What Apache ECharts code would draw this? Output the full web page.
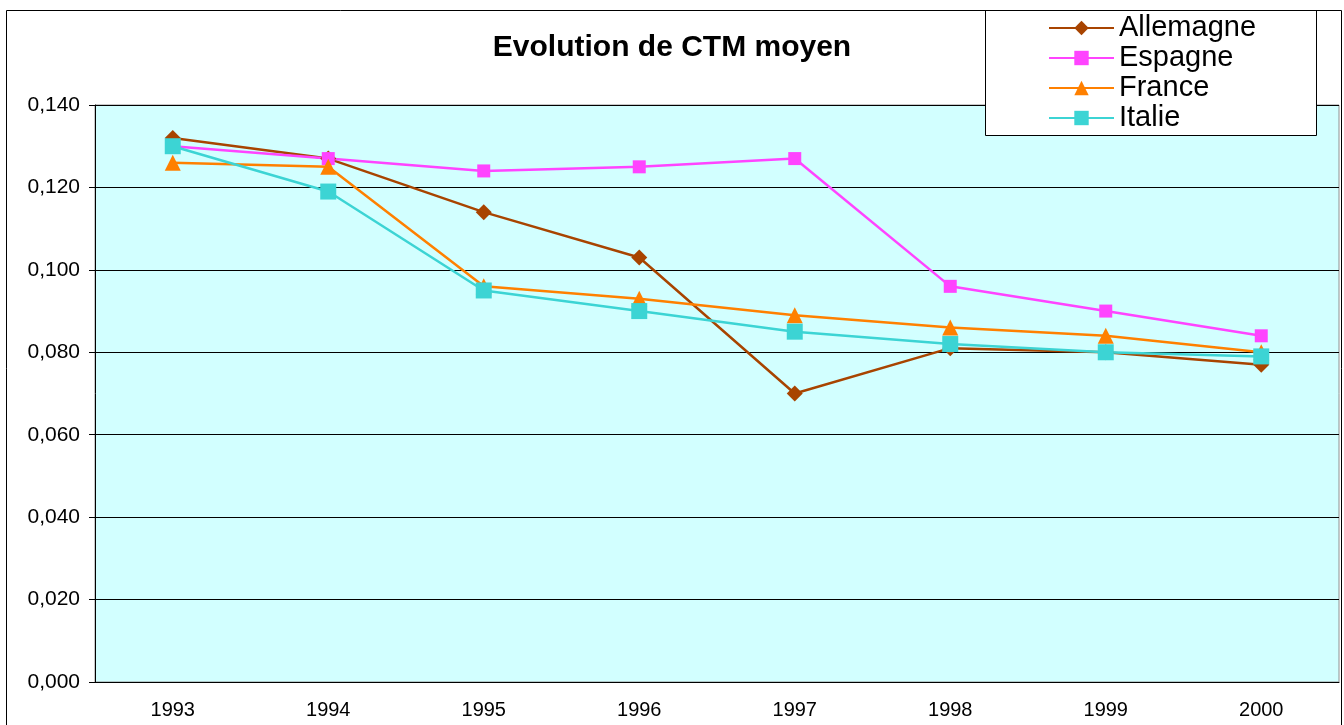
<!DOCTYPE html>
<html>
<head>
<meta charset="utf-8">
<script src="https://cdn.jsdelivr.net/npm/echarts@6/dist/echarts.min.js"></script>
<style>
  html, body { margin: 0; padding: 0; background: #fff; }
  #chart { width: 1344px; height: 725px; }
</style>
</head>
<body>
<div id="chart"></div>
<script>
var years = ['1993', '1994', '1995', '1996', '1997', '1998', '1999', '2000'];
var allemagne = [0.132, 0.127, 0.114, 0.103, 0.070, 0.081, 0.080, 0.077];
var espagne = [0.130, 0.127, 0.124, 0.125, 0.127, 0.096, 0.090, 0.084];
var france = [0.126, 0.125, 0.096, 0.093, 0.089, 0.086, 0.084, 0.080];
var italie = [0.130, 0.119, 0.095, 0.090, 0.085, 0.082, 0.080, 0.079];

var font = 'Liberation Sans, Arial, sans-serif';
var myChart = echarts.init(document.getElementById('chart'));

function line(name, data, color, symbol, size) {
  return {
    name: name,
    type: 'line',
    data: data,
    symbol: symbol,
    symbolSize: size,
    lineStyle: { color: color, width: 2.5 },
    itemStyle: { color: color },
    emphasis: { disabled: true }
  };
}

var option = {
  animation: false,
  textStyle: { fontFamily: font },
  title: {
    text: 'Evolution de CTM moyen',
    left: 'center',
    top: 28,
    textStyle: { fontFamily: font, fontSize: 30, fontWeight: 'bold', color: '#000' }
  },
  graphic: [
    {
      type: 'rect', z: 10,
      shape: { x: 6.5, y: 10.5, width: 1335, height: 730 },
      style: { fill: 'none', stroke: '#000', lineWidth: 1 }
    },
    {
      type: 'rect', z: 3,
      shape: { x: 985.5, y: 10.5, width: 331, height: 125 },
      style: { fill: '#fff', stroke: '#000', lineWidth: 1 }
    }
  ],
  legend: {
    orient: 'vertical',
    left: 1043,
    top: 8,
    z: 5,
    itemWidth: 65,
    itemHeight: 18,
    itemGap: 0,
    textStyle: { fontFamily: font, fontSize: 29, lineHeight: 30, color: '#000' },
    data: ['Allemagne', 'Espagne', 'France', 'Italie']
  },
  grid: {
    left: 95,
    right: 5,
    top: 105,
    bottom: 43,
    show: true,
    backgroundColor: '#d2ffff',
    borderColor: '#909090',
    borderWidth: 1
  },
  xAxis: {
    type: 'category',
    data: years,
    boundaryGap: true,
    axisLine: { lineStyle: { color: '#000', width: 1 } },
    axisTick: { length: 6, lineStyle: { color: '#000' } },
    axisLabel: { fontFamily: font, fontSize: 20, color: '#000', margin: 18 },
    splitLine: { show: false }
  },
  yAxis: {
    type: 'value',
    min: 0,
    max: 0.14,
    interval: 0.02,
    axisLine: { show: true, lineStyle: { color: '#000', width: 1 } },
    axisTick: { show: true, length: 6, lineStyle: { color: '#000' } },
    axisLabel: {
      fontFamily: font, fontSize: 21, color: '#000', margin: 15,
      formatter: function (v) { return v.toFixed(3).replace('.', ','); }
    },
    splitLine: { lineStyle: { color: '#000', width: 1 } }
  },
  series: [
    line('Allemagne', allemagne, '#a84400', 'diamond', 16),
    line('Espagne', espagne, '#ff44ff', 'rect', 13),
    line('France', france, '#ff8000', 'triangle', 16),
    line('Italie', italie, '#3cd4d4', 'rect', 16)
  ]
};
myChart.setOption(option);
</script>
</body>
</html>
